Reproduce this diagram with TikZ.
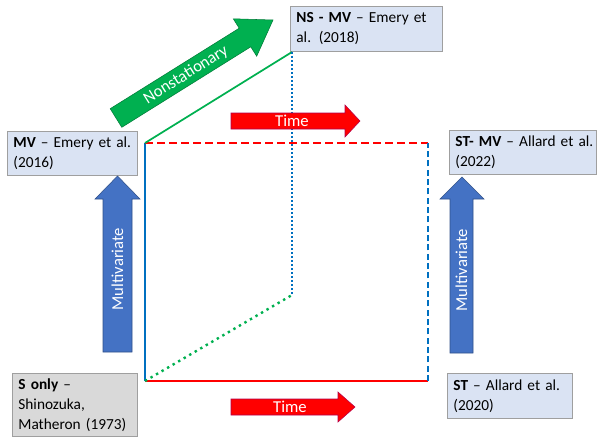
\documentclass[tikz,border=0pt]{standalone}
\usepackage{fontspec}
\setmainfont{Carlito}
\usetikzlibrary{positioning}
\definecolor{boxblue}{HTML}{DAE3F3}
\definecolor{boxgray}{HTML}{D9D9D9}
\definecolor{arrblue}{HTML}{4472C4}
\definecolor{arrgreen}{HTML}{00B050}
\definecolor{arrred}{HTML}{FF0000}
\definecolor{lineblue}{HTML}{0070C0}
\definecolor{linegreen}{HTML}{00B050}

\begin{document}
\begin{tikzpicture}[x=0.75pt, y=-0.75pt, font=\fontsize{11.5}{15}\selectfont,
  refbox/.style={draw=gray!75, line width=0.6pt, fill=boxblue, anchor=north west,
    align=left, inner xsep=4.5pt, inner ysep=2pt},
  arrowlabel/.style={text=white, inner sep=0pt, font=\fontsize{12.5}{15}\selectfont},
  edge/.style={line width=1.5pt}]
  \useasboundingbox (0,0) rectangle (606,437);
  % boxes
  \node[refbox, text width=88.5pt, minimum height=33pt] (mv) at (7,131)
    {\textbf{MV} -- Emery et al.\\(2016)};
  \node[refbox, text width=105pt, minimum height=33.75pt] (nsmv) at (290,6)
    {\textbf{NS - MV} -- Emery et\\al. (2018)};
  \node[refbox, text width=101.25pt, minimum height=33pt] (stmv) at (449,130)
    {\mbox{\textbf{ST- MV} -- Allard et al.}\\(2022)};
  \node[refbox, fill=boxgray, text width=84.75pt, minimum height=47.25pt] (sonly) at (12,373)
    {\textbf{S only} --\\Shinozuka,\\Matheron (1973)};
  \node[refbox, text width=84.75pt, minimum height=33.75pt] (st) at (447,373)
    {\textbf{ST} -- Allard et al.\\(2020)};
  % corners of the cube
  \coordinate (o) at (145,381);
  \coordinate (m) at (145,143);
  \coordinate (t) at (428,381);
  \coordinate (tm) at (428,143);
  \coordinate (n) at (292,52);
  \coordinate (no) at (292,295);
  % cube edges
  \draw[edge, lineblue] (o) -- (m);
  \draw[edge, arrred] (o) -- (t);
  \draw[edge, arrred, dash pattern=on 6pt off 3pt] (m) -- (tm);
  \draw[edge, lineblue, dash pattern=on 4.5pt off 2.5pt] (t) -- (tm);
  \draw[edge, linegreen, line width=1.3pt] (m) -- (n);
  \draw[lineblue, line width=1.3pt, dash pattern=on 1.3pt off 1.7pt] (n) -- (no);
  \draw[linegreen, line width=1.8pt, dash pattern=on 1.8pt off 3pt] (o) -- (no);
  % block arrows
  \filldraw[fill=arrgreen, draw=arrgreen!70!black, line width=0.4pt]
    (110.2,108.7) -- (239.2,28.2) -- (233.3,18.8) -- (273,20)
    -- (256.7,56.2) -- (250.8,46.8) -- (121.8,127.3) -- cycle;
  \node[arrowlabel, rotate=32] (nonstat) at (186,75) {Nonstationary};
  \filldraw[fill=arrred, draw=arrred!70!blue, line width=0.4pt]
    (231,113) -- (345,113) -- (345,105) -- (360,121) -- (345,137) -- (345,129) -- (231,129) -- cycle;
  \node[arrowlabel] (timetop) at (292,121) {Time};
  \filldraw[fill=arrred, draw=arrred!70!blue, line width=0.4pt]
    (231,399) -- (338,399) -- (338,392) -- (355,407) -- (338,422) -- (338,415) -- (231,415) -- cycle;
  \node[arrowlabel] (timebot) at (290,407) {Time};
  \filldraw[fill=arrblue, draw=arrblue!70!black, line width=0.4pt]
    (103,352) -- (103,199) -- (95,199) -- (117.5,176) -- (140,199) -- (132,199) -- (132,352) -- cycle;
  \node[arrowlabel, rotate=90] (multileft) at (117.5,269) {Multivariate};
  \filldraw[fill=arrblue, draw=arrblue!70!black, line width=0.4pt]
    (450,353) -- (450,199) -- (440,199) -- (462,177) -- (484,199) -- (473,199) -- (473,353) -- cycle;
  \node[arrowlabel, rotate=90] (multiright) at (461.5,270) {Multivariate};
\end{tikzpicture}
\end{document}
